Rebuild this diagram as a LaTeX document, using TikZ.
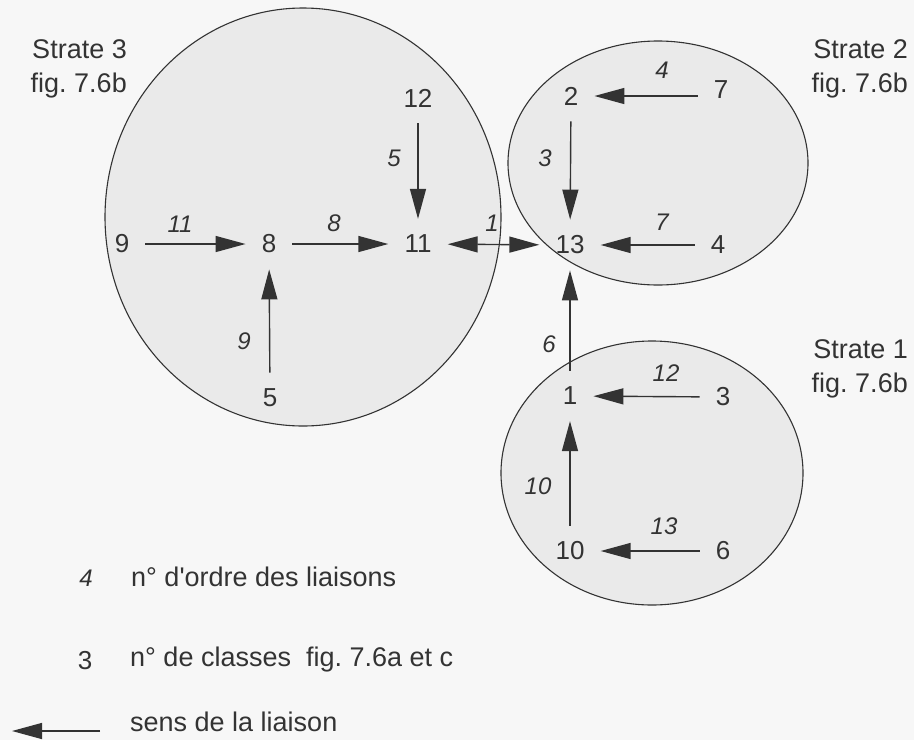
\documentclass[tikz,border=0pt]{standalone}
\usepackage{fontspec}
\setmainfont{Liberation Sans}
\usetikzlibrary{arrows.meta}
\definecolor{ink}{HTML}{333333}
\definecolor{bg}{HTML}{F7F7F7}
\definecolor{zone}{HTML}{EAEAEA}
\tikzset{
  cls/.style={inner sep=1pt, text=ink, font=\fontsize{26}{30}\selectfont},
  lbl/.style={inner sep=0pt, text=ink, font=\fontsize{24}{28}\selectfont\itshape},
  txt/.style={inner sep=0pt, text=ink, font=\fontsize{27}{34}\selectfont},
  arr/.style={draw=ink, line width=1.4pt, -{Triangle[length=30pt,width=16pt]}},
  lk/.style={arr, shorten >=15pt, shorten <=15pt},
  dlk/.style={draw=ink, line width=1.4pt, {Triangle[length=30pt,width=16pt]}-{Triangle[length=30pt,width=16pt]}, shorten >=15pt, shorten <=15pt},
  strate/.style={draw=ink, line width=1.1pt, fill=zone},
}
\begin{document}
\frenchspacing
\begin{tikzpicture}[x=1pt,y=-1pt]
\fill[bg] (0,0) rectangle (914,740);
\useasboundingbox (0,0) rectangle (914,740);
% strata
\draw[strate] (303,217) ellipse [x radius=198, y radius=209];
\draw[strate] (658,163) ellipse [x radius=150, y radius=122];
\draw[strate] (652,473) ellipse [x radius=151, y radius=132];
% strata captions
\node[txt, align=right, anchor=east] (s3) at (127,69) {Strate 3\\fig. 7.6b};
\node[txt, align=right, anchor=east] (s2) at (908,69) {Strate 2\\fig. 7.6b};
\node[txt, align=right, anchor=east] (s1) at (908,369) {Strate 1\\fig. 7.6b};
% classes
\node[cls] (n12) at (418,98) {12};
\node[cls] (n9) at (122,244) {9};
\node[cls] (n8) at (269,244) {8};
\node[cls] (n11) at (418,244) {11};
\node[cls] (n5) at (270,398) {5};
\node[cls] (n2) at (571,96) {2};
\node[cls] (n7) at (721,90) {7};
\node[cls] (n13) at (570,245) {13};
\node[cls] (n4) at (718,245) {4};
\node[cls] (n1) at (570,396) {1};
\node[cls] (n3) at (723,397) {3};
\node[cls] (n10) at (570,551) {10};
\node[cls] (n6) at (723,551) {6};
% links
\draw[lk] (n12) -- (n11);
\draw[lk] (n9) -- (n8);
\draw[lk] (n8) -- (n11);
\draw[lk] (n5) -- (n8);
\draw[dlk] (n11) -- (n13);
\draw[lk] (n2) -- (n13);
\draw[lk] (n7.west |- n2) -- (n2);
\draw[lk] (n4) -- (n13);
\draw[lk] (n1) -- (n13);
\draw[lk] (n3) -- (n1);
\draw[lk] (n10) -- (n1);
\draw[lk] (n6) -- (n10);
% order numbers
\node[lbl] (o5) at (394,158) {5};
\node[lbl] (o11) at (180,224) {11};
\node[lbl] (o8) at (334,223) {8};
\node[lbl] (o9) at (244,341) {9};
\node[lbl] (o1) at (492,223) {1};
\node[lbl] (o3) at (545,158) {3};
\node[lbl] (o4) at (662,70) {4};
\node[lbl] (o7) at (662,222) {7};
\node[lbl] (o6) at (549,344) {6};
\node[lbl] (o12) at (666,373) {12};
\node[lbl] (o10) at (538,486) {10};
\node[lbl] (o13) at (664,526) {13};
% legend
\node[lbl] (k4) at (86,578) {4};
\node[txt, anchor=west] (t4) at (131,577) {n° d\textquotesingle ordre des liaisons};
\node[cls] (k3) at (85,661) {3};
\node[txt, anchor=west] (t3) at (130,660) {n° de classes\ \ fig. 7.6a et c};
\coordinate (ka) at (100,731);
\coordinate (kb) at (12,731);
\draw[arr] (ka) -- (kb);
\node[txt, anchor=west] (tk) at (130,722) {sens de la liaison};
\end{tikzpicture}
\end{document}
